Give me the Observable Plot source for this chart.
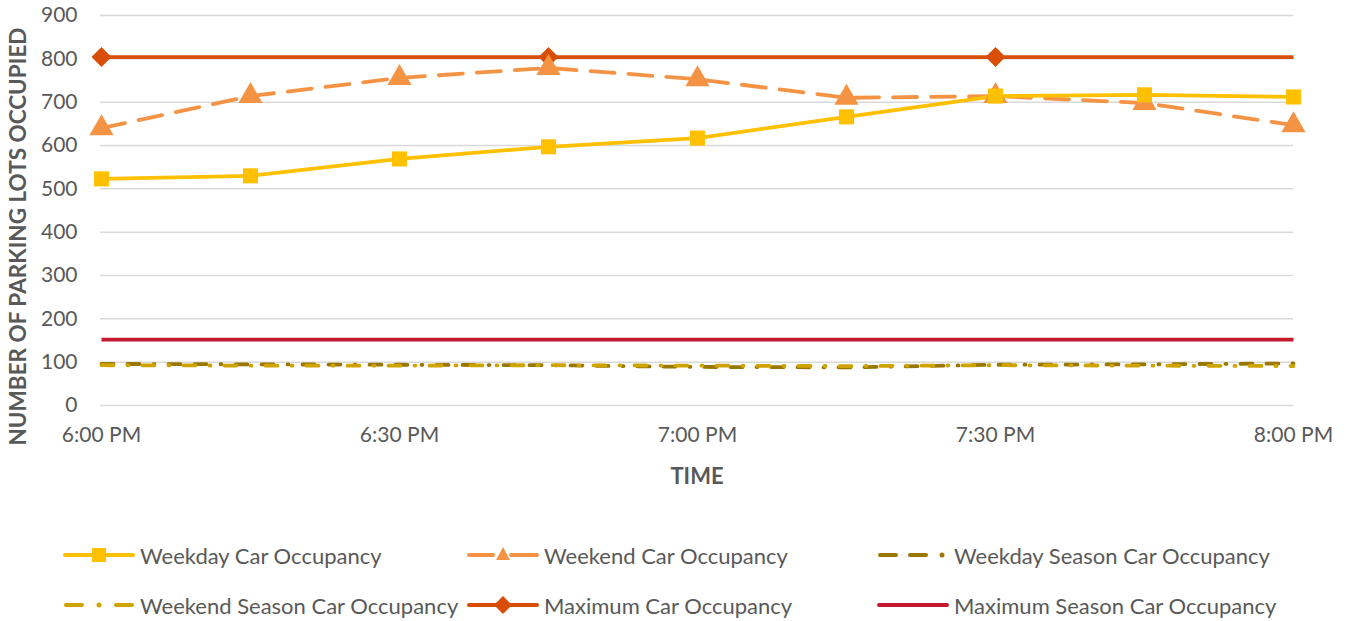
<!DOCTYPE html>
<html><head><meta charset="utf-8">
<script src="https://cdn.jsdelivr.net/npm/d3@7"></script>
<script src="https://cdn.jsdelivr.net/npm/@observablehq/plot@0.6"></script>
<style>
body{margin:0;background:#fff;font-family:Lato, "Open Sans", sans-serif;}
#wrap{position:relative;width:1347px;height:621px;overflow:hidden;}
#wrap svg.plot{position:absolute;left:0;top:0;}
.leg{position:absolute;display:flex;align-items:center;font-size:22px;color:#595959;white-space:nowrap;}
.leg svg{margin-right:5px;}
</style></head><body><div id="wrap"></div>
<script>
const times = ["6:00 PM","6:15 PM","6:30 PM","6:45 PM","7:00 PM","7:15 PM","7:30 PM","7:45 PM","8:00 PM"];
const weekday = [523,530,569,597,617,666,714,717,712];
const weekend = [640,714,756,779,753,710,714,698,647];
const weekdaySeason = [96,95,94,93,89,88,94,95,97];
const weekendSeason = [93,92,92,93,92,91,93,92,91];
const maximum = [804,804,804,804,804,804,804,804,804];
const maximumSeason = [152,152,152,152,152,152,152,152,152];
const maxMarkerTimes = ["6:00 PM","6:45 PM","7:30 PM"];
const xTicks = ["6:00 PM","6:30 PM","7:00 PM","7:30 PM","8:00 PM"];
const yTicks = [0,100,200,300,400,500,600,700,800,900];

const seriesNames = ["Weekday Car Occupancy","Weekend Car Occupancy","Weekday Season Car Occupancy","Weekend Season Car Occupancy","Maximum Car Occupancy","Maximum Season Car Occupancy"];
const colors = {
  "Weekday Car Occupancy":"#FFC000",
  "Weekend Car Occupancy":"#F59345",
  "Weekday Season Car Occupancy":"#9A7700",
  "Weekend Season Car Occupancy":"#CFA400",
  "Maximum Car Occupancy":"#D94E06",
  "Maximum Season Car Occupancy":"#C5192D"
};
const dashes = {
  "Weekday Car Occupancy":null,
  "Weekend Car Occupancy":"24,14",
  "Weekday Season Car Occupancy":"12,14,12,14,1,14",
  "Weekend Season Car Occupancy":"12,14,1,14",
  "Maximum Car Occupancy":null,
  "Maximum Season Car Occupancy":null
};
const values = [weekday, weekend, weekdaySeason, weekendSeason, maximum, maximumSeason];
const rows = (i) => times.map((t, j) => ({time: t, value: values[i][j]}));

const lineMark = (i) => Plot.line(rows(i), {x:"time", y:"value", stroke: colors[seriesNames[i]], strokeWidth:3.8,
  strokeDasharray: dashes[seriesNames[i]] || undefined, strokeLinecap: dashes[seriesNames[i]] ? "round" : "butt", strokeLinejoin:"round"});

const maxRows = rows(4).filter(d => maxMarkerTimes.includes(d.time));

const chart = Plot.plot({
  width:1347, height:500,
  marginLeft:100, marginRight:54, marginTop:15, marginBottom:95,
  style:{fontFamily:"Lato, 'Open Sans', sans-serif", fontSize:"21px", color:"#595959", background:"transparent"},
  x:{type:"point", domain:times, padding:0},
  y:{domain:[0,900]},
  marks:[
    Plot.gridY(yTicks, {stroke:"#d9d9d9", strokeOpacity:1, strokeWidth:1.5}),
    Plot.axisY(yTicks, {tickSize:0, tickPadding:23, label:null, fill:"#595959", fontSize:21}),
    Plot.axisX(xTicks, {tickSize:0, tickPadding:22, label:null, fill:"#595959", fontSize:21}),
    lineMark(5),
    lineMark(2),
    lineMark(3),
    lineMark(4),
    lineMark(1),
    lineMark(0),
    Plot.dot(maxRows, {x:"time", y:"value", symbol:"diamond2", r:9, fill:colors[seriesNames[4]], stroke:"none"}),
    Plot.dot(rows(1), {x:"time", y:"value", symbol:"triangle", r:9, fill:colors[seriesNames[1]], stroke:"none"}),
    Plot.dot(rows(0), {x:"time", y:"value", symbol:"square", r:8.5, fill:colors[seriesNames[0]], stroke:"none"}),
    Plot.text(["NUMBER OF PARKING LOTS OCCUPIED"], {frameAnchor:"left", rotate:-90, dx:-82, dy:26, fontWeight:"bold", fontSize:22.5, fill:"#595959", textAnchor:"middle", lineAnchor:"middle"}),
    Plot.text(["TIME"], {frameAnchor:"bottom", dy:71, fontWeight:"bold", fontSize:22, fill:"#595959", textAnchor:"middle", lineAnchor:"middle"})
  ]
});
chart.classList.add("plot");
const wrap = document.getElementById("wrap");
wrap.appendChild(chart);

// legend
const legendPos = [
  {left:63, top:555}, {left:467, top:555}, {left:877, top:555},
  {left:63, top:605}, {left:467, top:605}, {left:877, top:605}
];
const legendOrder = [0,1,2,3,4,5];
function swatch(i){
  const name = seriesNames[i], c = colors[name];
  let s = `<svg width="72" height="24" viewBox="0 0 72 24">`;
  if (i === 2) {
    s += `<line x1="3" y1="12" x2="19" y2="12" stroke="${c}" stroke-width="4" stroke-linecap="round"/>`;
    s += `<line x1="33" y1="12" x2="49" y2="12" stroke="${c}" stroke-width="4" stroke-linecap="round"/>`;
    s += `<circle cx="65" cy="12" r="2.5" fill="${c}"/>`;
  } else if (i === 3) {
    s += `<line x1="3" y1="12" x2="19" y2="12" stroke="${c}" stroke-width="4" stroke-linecap="round"/>`;
    s += `<circle cx="36" cy="12" r="2.5" fill="${c}"/>`;
    s += `<line x1="53" y1="12" x2="69" y2="12" stroke="${c}" stroke-width="4" stroke-linecap="round"/>`;
  } else if (i === 1) {
    s += `<line x1="2" y1="12" x2="26" y2="12" stroke="${c}" stroke-width="4" stroke-linecap="round"/>`;
    s += `<line x1="44" y1="12" x2="70" y2="12" stroke="${c}" stroke-width="4" stroke-linecap="round"/>`;
    s += `<path d="M36,4 L43,17 L29,17 Z" fill="${c}"/>`;
  } else {
    s += `<line x1="2" y1="12" x2="70" y2="12" stroke="${c}" stroke-width="4" stroke-linecap="round"/>`;
    if (i === 0) s += `<rect x="29" y="5" width="14" height="14" fill="${c}"/>`;
    if (i === 4) s += `<path d="M36,3 L45,12 L36,21 L27,12 Z" fill="${c}"/>`;
  }
  return s + `</svg>`;
}
legendOrder.forEach((i, k) => {
  const d = document.createElement("div");
  d.className = "leg";
  d.style.left = legendPos[k].left + "px";
  d.style.top = (legendPos[k].top - 14) + "px";
  d.style.height = "28px";
  d.innerHTML = swatch(i) + `<span>${seriesNames[i]}</span>`;
  wrap.appendChild(d);
});
</script></body></html>
